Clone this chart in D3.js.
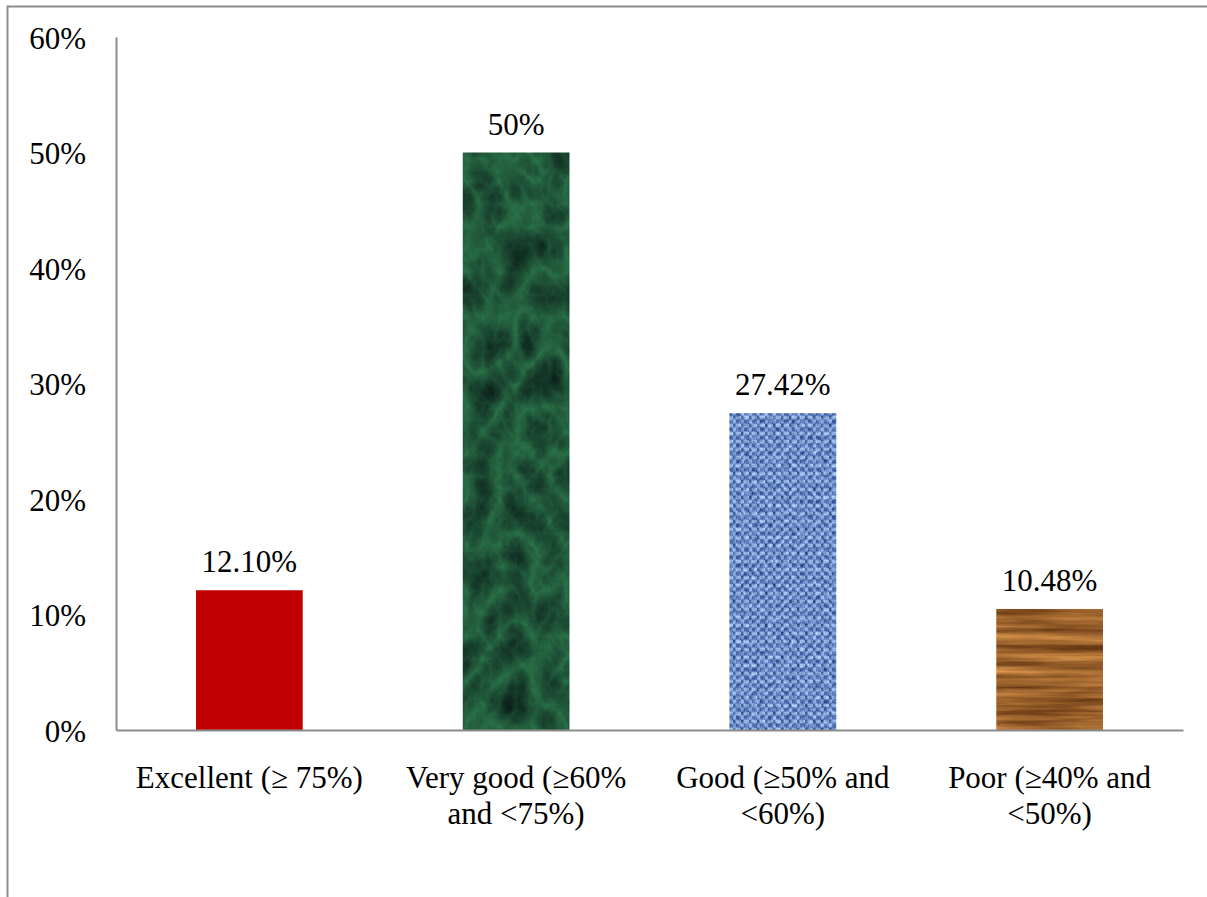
<!DOCTYPE html>
<html>
<head>
<meta charset="utf-8">
<script src="https://cdn.jsdelivr.net/npm/d3@7"></script>
<style>
  html, body { margin: 0; padding: 0; background: #fff; }
  svg { display: block; }
  text { font-family: "Liberation Serif", "Times New Roman", serif !important; fill: #000; }
</style>
</head>
<body>
<svg id="chart" width="1207" height="897"></svg>
<script>
// Grade bands and the share of results that fall in each
const categories = [
  ["Excellent (\u2265 75%)"],
  ["Very good (\u226560%", "and <75%)"],
  ["Good (\u226550% and", "<60%)"],
  ["Poor (\u226540% and", "<50%)"]
];
const values = [12.10, 50, 27.42, 10.48];
const valueLabels = ["12.10%", "50%", "27.42%", "10.48%"];
const yTicks = [0, 10, 20, 30, 40, 50, 60];
const yTickLabels = ["0%", "10%", "20%", "30%", "40%", "50%", "60%"];

// Texture used for each bar: plain red, green marble, blue linen, wood
const barStyles = ["solid", "marble", "linen", "wood"];

const W = 1207, H = 897;
const margin = { left: 116, right: 24, top: 37, bottom: 167 };
const svg = d3.select("#chart");
const FONT = 31;

const defs = svg.append("defs");

function texFilter(id) {
  return defs.append("filter").attr("id", id)
    .attr("x", 0).attr("y", 0).attr("width", 1).attr("height", 1)
    .attr("filterUnits", "objectBoundingBox")
    .attr("color-interpolation-filters", "sRGB");
}

// Green marble: lighter veins along the zero lines of turbulence, deep green elsewhere
const marble = texFilter("marbleTex");
marble.append("feTurbulence").attr("type", "turbulence")
  .attr("baseFrequency", "0.03 0.022").attr("numOctaves", 5).attr("seed", 7).attr("result", "n");
marble.append("feColorMatrix").attr("in", "n").attr("type", "matrix")
  .attr("values", "-0.15 0 0 0 0.17  -0.4 0 0 0 0.46  -0.22 0 0 0 0.29  0 0 0 0 1").attr("result", "c");
marble.append("feComposite").attr("in", "c").attr("in2", "SourceGraphic").attr("operator", "in");

// Wood grain: noise stretched along x gives horizontal streaks
const wood = texFilter("woodTex");
wood.append("feTurbulence").attr("type", "fractalNoise")
  .attr("baseFrequency", "0.006 0.12").attr("numOctaves", 4).attr("seed", 3).attr("result", "n");
wood.append("feColorMatrix").attr("in", "n").attr("type", "matrix")
  .attr("values", "0.8 0 0 0 0.22  0.65 0 0 0 0.07  0.4 0 0 0 -0.02  0 0 0 0 1").attr("result", "c");
wood.append("feComposite").attr("in", "c").attr("in2", "SourceGraphic").attr("operator", "in");

// Linen weave: a tile of light and dark threads
const linen = defs.append("pattern").attr("id", "linenFill")
  .attr("patternUnits", "userSpaceOnUse").attr("width", 8).attr("height", 8);
linen.append("rect").attr("width", 8).attr("height", 8).attr("fill", "#6889cf");
linen.append("rect").attr("x", 0).attr("y", 0).attr("width", 5).attr("height", 3).attr("fill", "#a6c1f2");
linen.append("rect").attr("x", 5).attr("y", 4).attr("width", 3).attr("height", 3).attr("fill", "#93b0ea");
linen.append("rect").attr("x", 5).attr("y", 0).attr("width", 2).attr("height", 3).attr("fill", "#2a4a8c");
linen.append("rect").attr("x", 0).attr("y", 4).attr("width", 3).attr("height", 3).attr("fill", "#34549a");
linen.append("rect").attr("x", 3).attr("y", 3).attr("width", 2).attr("height", 5).attr("fill", "#5072ba");
// Fine grain laid over the weave
const grain = texFilter("grainTex");
grain.append("feTurbulence").attr("type", "fractalNoise")
  .attr("baseFrequency", "0.22").attr("numOctaves", 2).attr("seed", 5).attr("result", "n");
grain.append("feColorMatrix").attr("in", "n").attr("type", "matrix")
  .attr("values", "1.3 0 0 0 -0.2  1.3 0 0 0 -0.08  1.1 0 0 0 0.2  0 0 0 0 0.4").attr("result", "c");
grain.append("feComposite").attr("in", "c").attr("in2", "SourceGraphic").attr("operator", "in");

// Outer frame
svg.append("rect")
  .attr("x", 7.5).attr("y", 6.5).attr("width", W + 20).attr("height", H + 20)
  .attr("fill", "none").attr("stroke", "#8c8c8c").attr("stroke-width", 2);

const x = d3.scaleBand()
  .domain(d3.range(categories.length))
  .range([margin.left, W - margin.right])
  .paddingInner(0.6).paddingOuter(0.3);

const y = d3.scaleLinear()
  .domain([0, 60])
  .range([H - margin.bottom, margin.top]);

// Bars
const bars = svg.append("g");
values.forEach((v, i) => {
  const r = () => bars.append("rect")
    .attr("x", x(i)).attr("y", y(v))
    .attr("width", x.bandwidth()).attr("height", y(0) - y(v));
  const style = barStyles[i];
  if (style === "solid") {
    r().attr("fill", "#c00000");
  } else if (style === "marble") {
    r().attr("fill", "#1d5a33").attr("filter", "url(#marbleTex)");
  } else if (style === "linen") {
    r().attr("fill", "url(#linenFill)");
    r().attr("fill", "#000").attr("filter", "url(#grainTex)");
  } else {
    r().attr("fill", "#9a6433").attr("filter", "url(#woodTex)");
  }
});

// Value labels above bars
svg.append("g").selectAll("text")
  .data(values)
  .join("text")
  .attr("x", (d, i) => x(i) + x.bandwidth() / 2)
  .attr("y", d => y(d) - 18)
  .attr("text-anchor", "middle")
  .attr("font-size", FONT)
  .text((d, i) => valueLabels[i]);

// Y axis
const yAxis = d3.axisLeft(y)
  .tickValues(yTicks)
  .tickFormat((d, i) => yTickLabels[i])
  .tickSize(0).tickPadding(30);
const gy = svg.append("g").attr("transform", `translate(${margin.left},0)`).call(yAxis);
gy.attr("font-size", null).attr("font-family", null);
gy.select(".domain").attr("stroke", "#8c8c8c").attr("stroke-width", 2);
gy.selectAll("text")
  .attr("font-size", FONT)
  .attr("dy", "0.36em")
  .attr("fill", "#000");

// X axis
const xAxis = d3.axisBottom(x).tickSize(0).tickFormat("");
const gx = svg.append("g").attr("transform", `translate(0,${y(0)})`).call(xAxis);
gx.select(".domain").attr("stroke", "#8c8c8c").attr("stroke-width", 2);

// Category labels, wrapped over two lines where needed
const catG = svg.append("g");
categories.forEach((lines, i) => {
  const cx = x(i) + x.bandwidth() / 2;
  const t = catG.append("text")
    .attr("x", cx)
    .attr("y", y(0) + 58)
    .attr("text-anchor", "middle")
    .attr("font-size", FONT);
  lines.forEach((line, j) => {
    t.append("tspan")
      .attr("x", cx)
      .attr("dy", j === 0 ? 0 : 36)
      .text(line);
  });
});
</script>
</body>
</html>
